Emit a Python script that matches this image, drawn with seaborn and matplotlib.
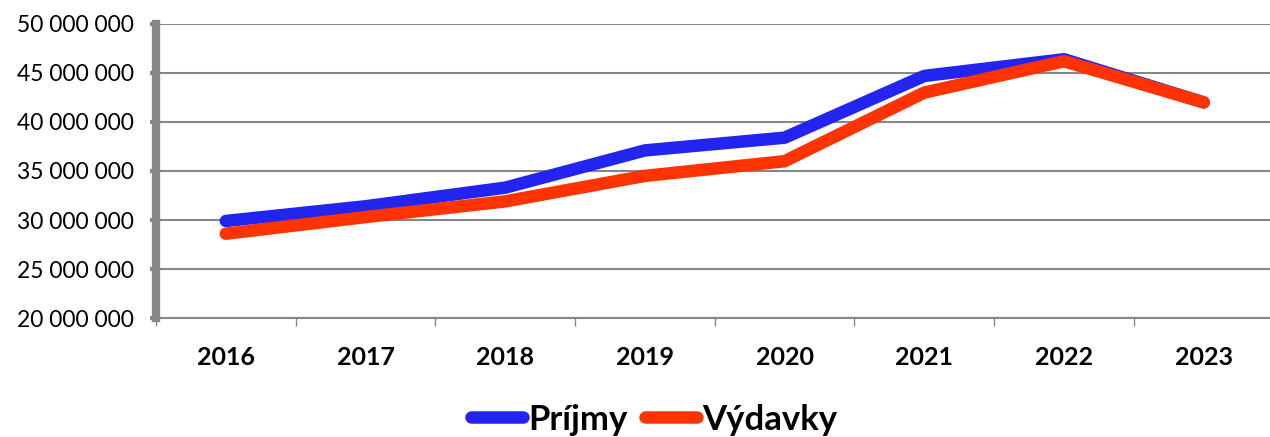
import pandas as pd
import matplotlib.pyplot as plt
import seaborn as sns
from matplotlib.ticker import FuncFormatter

# --- Data ---
years = ['2016', '2017', '2018', '2019', '2020', '2021', '2022', '2023']
prijmy = [29900000, 31400000, 33300000, 37100000, 38400000, 44700000, 46400000, 42000000]
vydavky = [28600000, 30300000, 31900000, 34500000, 36000000, 43000000, 46200000, 42000000]

series_names = ['Príjmy', 'Výdavky']
series_colors = {'Príjmy': '#2424F0', 'Výdavky': '#FF3300'}

df = pd.DataFrame({
    'rok': years * 2,
    'hodnota': prijmy + vydavky,
    'serie': [series_names[0]] * len(years) + [series_names[1]] * len(years),
})

sns.set_theme(style='white')
plt.rcParams['font.family'] = ['Lato', 'DejaVu Sans']
plt.rcParams['text.color'] = 'black'

fig = plt.figure(figsize=(12.7, 4.37), dpi=100)
ax = fig.add_axes([0.1228, 0.2723, 0.88, 0.6728])

sns.lineplot(data=df, x='rok', y='hodnota', hue='serie', palette=series_colors,
             linewidth=9, ax=ax, legend=False, sort=False,
             solid_capstyle='round', solid_joinstyle='round')

ax.set_xlim(-0.5, 7.5)
ax.set_ylim(20000000, 50000000)
ax.set_yticks(range(20000000, 50000001, 5000000))
ax.yaxis.set_major_formatter(FuncFormatter(lambda v, p: f'{int(v):,}'.replace(',', ' ')))
ax.grid(axis='y', color='#868686', linewidth=1.5)
ax.set_axisbelow(True)

for s in ['top', 'right']:
    ax.spines[s].set_visible(False)
ax.spines['left'].set_color('#868686')
ax.spines['left'].set_linewidth(6)
ax.spines['bottom'].set_color('#868686')
ax.spines['bottom'].set_linewidth(1.5)

ax.tick_params(axis='y', which='major', left=True, length=4, width=3, color='#868686',
               labelsize=16.5, pad=12, labelcolor='black')
ax.tick_params(axis='x', which='major', bottom=False, labelsize=18, pad=14, labelcolor='black')
for lab in ax.get_xticklabels():
    lab.set_fontweight('bold')

# category separator ticks on the x axis
ax.set_xticks([i + 0.5 for i in range(-1, len(years))], minor=True)
ax.tick_params(axis='x', which='minor', bottom=True, length=6, width=1, color='#868686')

ax.set_xlabel('')
ax.set_ylabel('')

handles = [plt.Line2D([0], [0], color=series_colors[n], linewidth=9, solid_capstyle='round')
           for n in series_names]
leg = fig.legend(handles, series_names, loc='center', bbox_to_anchor=(0.515, 0.04), ncol=2,
                 frameon=False, handlelength=1.5, handletextpad=0.15, columnspacing=0.5,
                 prop={'size': 25, 'weight': 'bold'})
for t in leg.get_texts():
    t.set_color('black')

fig.savefig('out.png', dpi=100)
